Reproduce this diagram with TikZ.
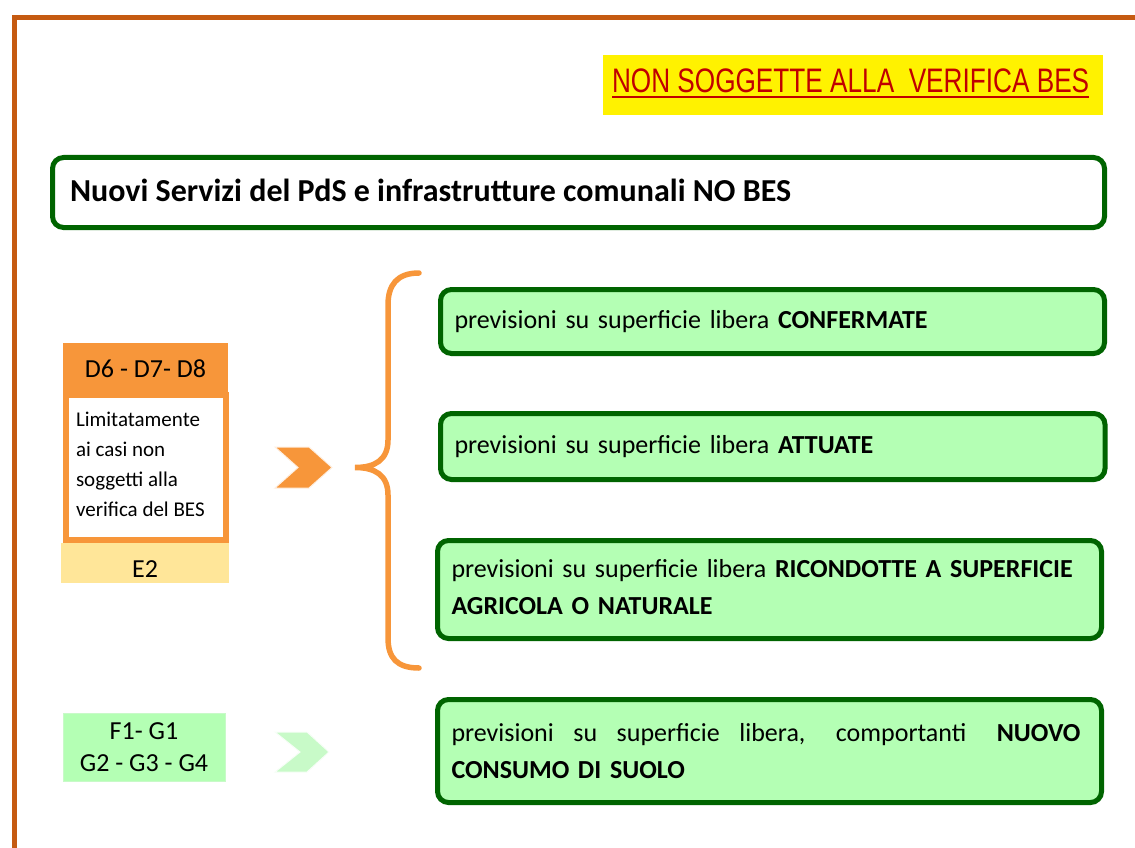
\documentclass[tikz,border=0pt]{standalone}
\usepackage{fontspec}
\setmainfont{Carlito}
\newfontfamily\arialn[FakeStretch=0.77]{Liberation Sans}
\definecolor{frameC}{HTML}{C55A11}
\definecolor{redT}{HTML}{C00000}
\definecolor{gBorder}{HTML}{006400}
\definecolor{gFill}{HTML}{B4FFB4}
\definecolor{gLight}{HTML}{C8FAC8}
\definecolor{orangeC}{HTML}{F7963A}
\definecolor{yellowE}{HTML}{FFE699}
\newcommand\myul[1]{\vtop{\hbox{#1}\kern2.5pt\hrule height 2.4pt}}
\tikzset{
  every node/.style={outer sep=0pt},
  gbox/.style={draw=gBorder, line width=5pt, fill=gFill, rounded corners=11pt,
    inner xsep=14pt, inner ysep=0pt, align=left, anchor=north west,
    font=\fontsize{26}{37}\selectfont},
  lbl/.style={inner sep=0pt, font=\fontsize{26}{32}\selectfont},
}
\begin{document}
\begin{tikzpicture}[x=1pt,y=-1pt]
\useasboundingbox (0,0) rectangle (1135,848);
% frame
\draw[frameC, line width=5pt] (14.5,848) -- (14.5,17.5) -- (1135,17.5);
% yellow heading
\node[fill=yellow, minimum width=500pt, minimum height=60pt, inner sep=0pt, anchor=north west] (yb) at (603,55) {};
\node[inner sep=0pt, anchor=base west, text=redT, font=\arialn\fontsize{34}{40}\selectfont] (yt) at (612,93) {\myul{NON SOGGETTE ALLA \ VERIFICA BES}};
% main title box
\node[draw=gBorder, line width=5pt, fill=white, rounded corners=11pt, minimum width=1052pt, minimum height=70pt, inner sep=0pt, anchor=north west] (tb) at (52.5,157.5) {};
\node[inner sep=0pt, anchor=west, font=\bfseries\fontsize{32}{36}\selectfont] (tt) at (70,190) {Nuovi Servizi del PdS e infrastrutture comunali NO BES};
% green boxes
\node[gbox, text width=636pt, minimum height=64pt] (b1) at (440.5,289.5) {previsioni su superficie libera \textbf{CONFERMATE}};
\node[gbox, text width=636.5pt, minimum height=66pt] (b2) at (440.5,413.5) {previsioni su superficie libera \textbf{ATTUATE}};
\node[gbox, text width=636pt, minimum height=98pt, text depth=42pt] (b3) at (437.5,540.5) {previsioni su superficie libera \textbf{RICONDOTTE A SUPERFICIE}\\\textbf{AGRICOLA O NATURALE}};
\node[gbox, text width=636pt, minimum height=103pt] (b4) at (437.5,699.5) {\hbox to 629pt{previsioni\hfill\ su\hfill\ superficie\hfill\ libera,\hfill\hfill\ comportanti\hfill\hfill\ \textbf{NUOVO}}\\\textbf{CONSUMO DI SUOLO}};
% left column
\node[draw=orangeC, line width=6pt, fill=white, minimum width=160pt, minimum height=145pt, inner sep=0pt, anchor=north west] (wb) at (66,395) {};
\node[fill=orangeC, minimum width=165pt, minimum height=51pt, inner sep=0pt, anchor=north west, lbl] (d6) at (63,343) {D6 - D7- D8};
\node[inner sep=0pt, anchor=north west, align=left, font=\fontsize{21}{30}\selectfont] (lt) at (76,412) {Limitatamente\\ai casi non\\soggetti alla\\verifica del BES};
\node[fill=yellowE, minimum width=168pt, minimum height=40pt, inner sep=0pt, anchor=north west, lbl, text height=28pt, text depth=0pt] (e2) at (61,543) {E2};
\node[fill=gFill, draw=gLight, line width=1pt, minimum width=162pt, minimum height=68pt, inner sep=0pt, anchor=north west, align=center, lbl] (fg) at (63,713) {F1- G1\\G2 - G3 - G4};
% chevrons
\fill[orangeC, draw=white!85!orangeC, line width=1pt] (275,447) -- (309,447) -- (332,467.5) -- (309,488) -- (275,488) -- (298,467.5) -- cycle;
\fill[gLight, draw=white!85!gLight, line width=1pt] (275,732) -- (307,732) -- (329,752) -- (307,772) -- (275,772) -- (300,752) -- cycle;
% brace
\draw[orangeC, line width=5.5pt, line cap=round] (419,273) .. controls (397,273) and (388,285) .. (388,305) -- (388,440) .. controls (388,460) and (375,467.5) .. (355,467.5) .. controls (375,467.5) and (388,475) .. (388,495) -- (388,638) .. controls (388,658) and (397,668) .. (419,668);
\end{tikzpicture}
\end{document}
